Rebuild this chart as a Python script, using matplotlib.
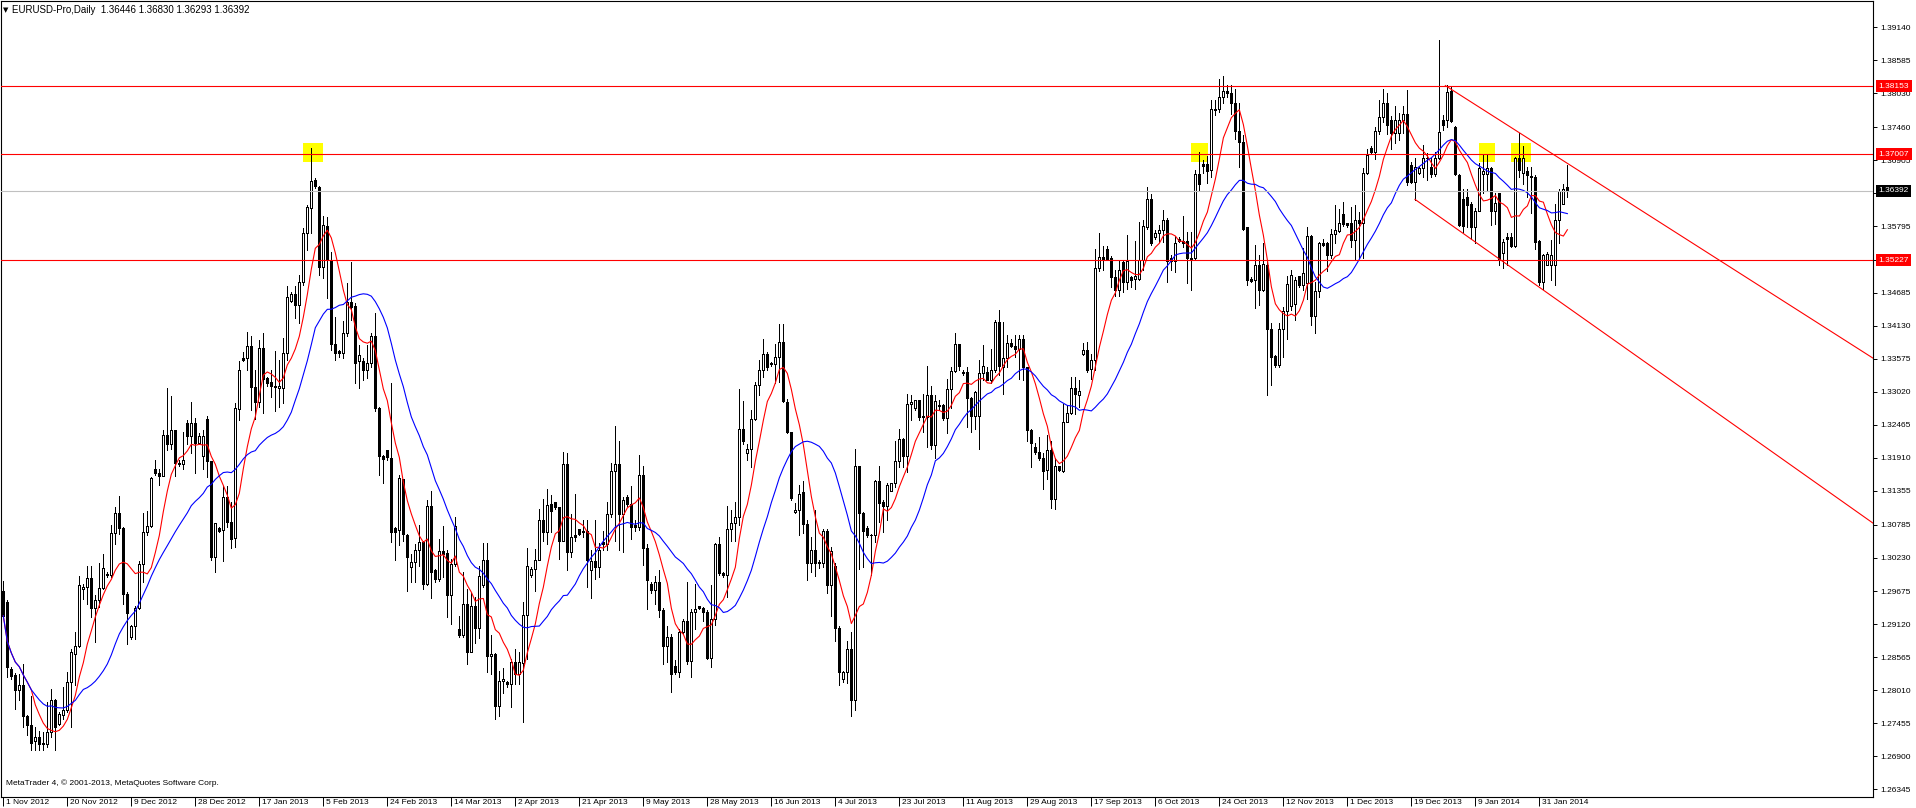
import numpy as np
import pandas as pd
import matplotlib
matplotlib.use("Agg")
import matplotlib.pyplot as plt
import matplotlib.transforms as mtransforms


plt.rcParams['font.family'] = ['Liberation Sans', 'DejaVu Sans']

# Daily EURUSD bars, prices in pips (12968 -> 1.2968)
bar_open = [
    12968, 12949, 12837, 12826, 12802, 12809, 12758, 12743, 12715, 12723,
    12712, 12711, 12730, 12784, 12744, 12760, 12768, 12814, 12862, 12876,
    12971, 12975, 12990, 12939, 12952, 12973, 12996, 12995, 13065, 13099,
    13074, 12963, 12891, 12908, 12939, 13013, 13066, 13076, 13173, 13165,
    13160, 13229, 13215, 13238, 13182, 13181, 13249, 13228, 13249, 13216,
    13194, 13256, 13186, 13025, 13074, 13070, 13125, 13084, 13056, 13273,
    13358, 13358, 13378, 13310, 13285, 13375, 13325, 13318, 13311, 13308,
    13308, 13367, 13455, 13466, 13447, 13487, 13568, 13610, 13658, 13645,
    13512, 13581, 13521, 13383, 13371, 13367, 13401, 13452, 13446, 13353,
    13353, 13339, 13350, 13395, 13274, 13194, 13205, 13190, 13073, 13070,
    13156, 13062, 13008, 13016, 13036, 13050, 12980, 13110, 13003, 12988,
    13034, 13032, 12960, 13013, 12904, 12893, 12945, 12865, 12942, 12906,
    12977, 13020, 12859, 12862, 12775, 12816, 12814, 12812, 12848, 12828,
    12846, 12928, 12994, 13005, 13020, 13086, 13066, 13114, 13117, 13108,
    13051, 13180, 13033, 13061, 13072, 13068, 13068, 13003, 13018, 13008,
    13050, 13046, 13097, 13169, 13180, 13096, 13125, 13114, 13078, 13075,
    13162, 13040, 12980, 12970, 12982, 12936, 12876, 12891, 12841, 12831,
    12898, 12918, 12850, 12932, 12942, 12939, 12932, 12855, 12921, 13046,
    12998, 12994, 13072, 13082, 13092, 13240, 13199, 13206, 13257, 13314,
    13339, 13366, 13350, 13348, 13360, 13386, 13285, 13234, 13100, 13104,
    13134, 13080, 13014, 13036, 13017, 13014, 13069, 12977, 13010, 12906,
    12820, 12831, 12870, 12785, 13177, 13098, 13074, 13062, 13061, 13152,
    13117, 13110, 13136, 13148, 13186, 13223, 13194, 13281, 13275, 13288,
    13262, 13260, 13296, 13212, 13279, 13279, 13258, 13306, 13337, 13382,
    13335, 13335, 13292, 13261, 13261, 13334, 13335, 13322, 13338, 13419,
    13343, 13359, 13384, 13378, 13374, 13391, 13343, 13238, 13210, 13201,
    13190, 13170, 13205, 13122, 13177, 13169, 13251, 13266, 13309, 13296,
    13366, 13372, 13341, 13355, 13509, 13528, 13542, 13527, 13494, 13472,
    13520, 13486, 13495, 13492, 13492, 13523, 13579, 13626, 13562, 13569,
    13574, 13591, 13527, 13522, 13558, 13555, 13555, 13526, 13526, 13668,
    13684, 13685, 13674, 13776, 13776, 13796, 13807, 13804, 13786, 13739,
    13722, 13578, 13491, 13489, 13515, 13473, 13515, 13408, 13362, 13347,
    13407, 13438, 13446, 13450, 13496, 13481, 13485, 13563, 13429, 13471,
    13552, 13552, 13531, 13567, 13572, 13601, 13585, 13585, 13557, 13591,
    13585, 13669, 13712, 13705, 13739, 13763, 13786, 13758, 13736, 13737,
    13759, 13768, 13682, 13654, 13670, 13677, 13694, 13680, 13667, 13694,
    13759, 13758, 13807, 13747, 13666, 13626, 13629, 13618, 13579, 13606,
    13667, 13667, 13677, 13606, 13635, 13535, 13562, 13561, 13546, 13694,
    13670, 13673, 13664, 13663, 13555, 13486, 13514, 13514, 13514, 13590,
    13618, 13645,
]
bar_high = [
    12985, 12952, 12840, 12830, 12828, 12845, 12760, 12792, 12739, 12733,
    12730, 12781, 12803, 12786, 12764, 12806, 12831, 12870, 12898, 12992,
    12980, 13009, 13009, 12960, 13014, 13029, 12999, 13078, 13108, 13127,
    13075, 12966, 12910, 12943, 13018, 13098, 13102, 13159, 13188, 13173,
    13238, 13309, 13295, 13238, 13187, 13234, 13255, 13284, 13258, 13233,
    13238, 13261, 13186, 13082, 13075, 13143, 13143, 13117, 13283, 13353,
    13369, 13403, 13395, 13339, 13389, 13400, 13327, 13339, 13371, 13355,
    13392, 13480, 13470, 13479, 13498, 13577, 13616, 13711, 13661, 13647,
    13597, 13596, 13537, 13428, 13372, 13420, 13484, 13520, 13451, 13381,
    13358, 13381, 13400, 13434, 13277, 13196, 13205, 13316, 13075, 13162,
    13156, 13064, 13030, 13047, 13078, 13052, 13120, 13136, 13005, 13055,
    13076, 13036, 13022, 13092, 12925, 12999, 12971, 12964, 12957, 13010,
    13048, 13048, 12893, 12863, 12834, 12838, 12817, 12854, 12870, 12865,
    12949, 13040, 13008, 13038, 13106, 13122, 13139, 13128, 13117, 13108,
    13201, 13199, 13097, 13131, 13072, 13086, 13086, 13036, 13086, 13048,
    13069, 13117, 13182, 13244, 13219, 13125, 13128, 13143, 13087, 13195,
    13178, 13047, 12982, 12992, 13002, 12939, 12908, 12896, 12851, 12904,
    12921, 12982, 12938, 12980, 12943, 12940, 12935, 12977, 13048, 13059,
    12999, 13111, 13103, 13117, 13306, 13286, 13215, 13272, 13318, 13356,
    13390, 13369, 13352, 13382, 13415, 13416, 13290, 13234, 13115, 13145,
    13152, 13086, 13059, 13103, 13020, 13072, 13072, 13041, 13014, 12908,
    12834, 12883, 12898, 13206, 13178, 13100, 13076, 13064, 13154, 13178,
    13120, 13148, 13149, 13219, 13240, 13225, 13298, 13296, 13289, 13288,
    13298, 13345, 13311, 13296, 13288, 13281, 13324, 13344, 13400, 13383,
    13338, 13344, 13293, 13304, 13356, 13380, 13344, 13374, 13422, 13440,
    13419, 13397, 13391, 13397, 13398, 13398, 13344, 13240, 13216, 13226,
    13199, 13229, 13219, 13191, 13178, 13282, 13279, 13326, 13326, 13322,
    13384, 13386, 13365, 13542, 13569, 13546, 13546, 13530, 13506, 13524,
    13524, 13565, 13496, 13555, 13587, 13590, 13646, 13634, 13573, 13582,
    13607, 13593, 13531, 13563, 13562, 13597, 13570, 13570, 13674, 13705,
    13691, 13697, 13792, 13792, 13827, 13832, 13817, 13817, 13811, 13786,
    13733, 13579, 13495, 13548, 13531, 13551, 13523, 13417, 13363, 13418,
    13445, 13496, 13507, 13495, 13496, 13543, 13579, 13565, 13487, 13554,
    13559, 13554, 13576, 13615, 13608, 13621, 13586, 13613, 13615, 13603,
    13677, 13709, 13715, 13747, 13792, 13810, 13803, 13765, 13782, 13770,
    13782, 13809, 13688, 13694, 13680, 13716, 13702, 13694, 13705, 13892,
    13766, 13817, 13815, 13748, 13668, 13643, 13643, 13621, 13610, 13686,
    13699, 13701, 13680, 13635, 13636, 13559, 13568, 13568, 13696, 13737,
    13714, 13680, 13680, 13666, 13556, 13534, 13537, 13556, 13618, 13643,
    13650, 13683,
]
bar_low = [
    12926, 12823, 12820, 12770, 12784, 12739, 12725, 12700, 12700, 12700,
    12700, 12705, 12722, 12700, 12742, 12753, 12764, 12739, 12809, 12873,
    12954, 12946, 12924, 12882, 12940, 12971, 12991, 12991, 13047, 13064,
    12946, 12879, 12887, 12887, 12938, 12982, 13061, 13075, 13163, 13145,
    13160, 13204, 13206, 13160, 13178, 13173, 13215, 13199, 13165, 13215,
    13173, 13159, 13019, 13000, 13067, 13018, 13075, 13039, 13041, 13255,
    13353, 13339, 13271, 13257, 13277, 13266, 13311, 13294, 13269, 13277,
    13283, 13355, 13453, 13425, 13417, 13481, 13540, 13568, 13644, 13498,
    13493, 13459, 13372, 13355, 13361, 13358, 13395, 13423, 13316, 13308,
    13322, 13325, 13344, 13269, 13162, 13148, 13187, 13050, 13019, 13045,
    13052, 12968, 12982, 12982, 13010, 12971, 12977, 12956, 12982, 12985,
    12991, 12924, 12912, 13010, 12890, 12890, 12845, 12865, 12880, 12889,
    12974, 12831, 12828, 12753, 12758, 12796, 12806, 12772, 12812, 12812,
    12747, 12854, 12991, 12968, 13019, 13052, 13047, 13066, 13106, 13022,
    13051, 13002, 13024, 13052, 13061, 13058, 12974, 12956, 12988, 12991,
    13036, 13036, 13092, 13052, 13036, 13033, 13111, 13055, 13069, 13070,
    13012, 12938, 12964, 12946, 12924, 12845, 12848, 12798, 12828, 12823,
    12896, 12845, 12823, 12904, 12938, 12918, 12854, 12840, 12910, 12994,
    12991, 12957, 13052, 13052, 13079, 13215, 13187, 13176, 13254, 13296,
    13326, 13338, 13346, 13317, 13318, 13285, 13232, 13120, 13098, 13061,
    13065, 12986, 13000, 12992, 13006, 13008, 12964, 12925, 12884, 12809,
    12814, 12813, 12758, 12767, 13005, 13008, 13058, 12994, 13050, 13083,
    13066, 13086, 13135, 13142, 13176, 13176, 13167, 13254, 13272, 13254,
    13234, 13209, 13206, 13191, 13271, 13255, 13232, 13275, 13335, 13338,
    13330, 13243, 13234, 13240, 13206, 13321, 13321, 13316, 13335, 13330,
    13299, 13343, 13377, 13360, 13324, 13322, 13220, 13175, 13198, 13187,
    13139, 13156, 13107, 13106, 13169, 13167, 13251, 13264, 13265, 13276,
    13363, 13335, 13324, 13338, 13505, 13506, 13523, 13478, 13462, 13462,
    13470, 13475, 13478, 13475, 13489, 13506, 13576, 13548, 13559, 13554,
    13554, 13486, 13506, 13503, 13554, 13545, 13484, 13472, 13523, 13640,
    13669, 13652, 13663, 13767, 13772, 13787, 13797, 13769, 13727, 13680,
    13573, 13481, 13487, 13442, 13447, 13471, 13296, 13313, 13344, 13344,
    13361, 13390, 13439, 13422, 13478, 13473, 13457, 13414, 13400, 13461,
    13547, 13505, 13526, 13552, 13571, 13580, 13579, 13545, 13524, 13526,
    13526, 13667, 13702, 13692, 13735, 13755, 13735, 13709, 13719, 13725,
    13736, 13649, 13652, 13624, 13667, 13663, 13657, 13663, 13664, 13692,
    13742, 13747, 13755, 13666, 13580, 13570, 13579, 13559, 13551, 13606,
    13636, 13640, 13582, 13584, 13514, 13509, 13514, 13545, 13545, 13663,
    13650, 13629, 13602, 13542, 13481, 13475, 13514, 13489, 13481, 13551,
    13617, 13629,
]
bar_close = [
    12926, 12840, 12825, 12802, 12809, 12758, 12742, 12712, 12723, 12710,
    12710, 12730, 12784, 12739, 12761, 12768, 12814, 12865, 12876, 12978,
    12975, 12990, 12939, 12953, 12973, 13006, 12994, 13065, 13099, 13074,
    12963, 12931, 12908, 12939, 13013, 13066, 13076, 13158, 13165, 13160,
    13229, 13215, 13238, 13182, 13181, 13188, 13228, 13249, 13216, 13228,
    13228, 13186, 13025, 13082, 13069, 13125, 13084, 13054, 13274, 13339,
    13355, 13378, 13310, 13285, 13375, 13323, 13317, 13311, 13310, 13312,
    13367, 13461, 13466, 13447, 13487, 13568, 13612, 13655, 13647, 13512,
    13582, 13523, 13383, 13367, 13367, 13401, 13452, 13445, 13350, 13364,
    13339, 13350, 13395, 13274, 13194, 13189, 13192, 13067, 13067, 13157,
    13064, 13024, 13016, 13037, 13050, 12980, 13110, 12999, 12988, 13034,
    13030, 12960, 13013, 13076, 12893, 12946, 12865, 12942, 12906, 12992,
    13020, 12859, 12862, 12775, 12817, 12820, 12812, 12848, 12828, 12848,
    12928, 13010, 13005, 13020, 13086, 13066, 13112, 13102, 13108, 13051,
    13180, 13033, 13058, 13058, 13064, 13067, 13019, 13018, 13008, 13036,
    13046, 13097, 13169, 13180, 13096, 13120, 13113, 13075, 13075, 13162,
    13040, 12986, 12970, 12982, 12936, 12876, 12891, 12828, 12831, 12898,
    12918, 12850, 12932, 12938, 12939, 12932, 12855, 12921, 13046, 12998,
    12994, 13072, 13082, 13092, 13240, 13219, 13206, 13257, 13314, 13339,
    13366, 13344, 13348, 13360, 13386, 13286, 13234, 13124, 13104, 13131,
    13080, 13014, 13036, 13014, 13014, 13069, 12977, 13034, 12906, 12831,
    12831, 12870, 12785, 13177, 13098, 13068, 13061, 13061, 13153, 13115,
    13110, 13145, 13148, 13186, 13223, 13194, 13282, 13285, 13288, 13260,
    13260, 13296, 13212, 13286, 13278, 13258, 13306, 13337, 13382, 13345,
    13334, 13292, 13261, 13302, 13334, 13346, 13322, 13338, 13419, 13345,
    13359, 13384, 13378, 13374, 13391, 13343, 13237, 13216, 13201, 13190,
    13169, 13205, 13122, 13177, 13171, 13251, 13266, 13309, 13298, 13303,
    13372, 13338, 13356, 13509, 13528, 13524, 13524, 13494, 13472, 13506,
    13486, 13522, 13490, 13496, 13523, 13580, 13626, 13552, 13569, 13574,
    13591, 13522, 13522, 13552, 13555, 13552, 13526, 13524, 13668, 13650,
    13681, 13673, 13776, 13775, 13796, 13807, 13803, 13786, 13739, 13722,
    13576, 13489, 13488, 13515, 13473, 13516, 13408, 13361, 13347, 13408,
    13438, 13483, 13498, 13489, 13481, 13501, 13563, 13429, 13471, 13551,
    13549, 13531, 13567, 13573, 13586, 13583, 13582, 13557, 13591, 13585,
    13669, 13700, 13705, 13739, 13763, 13786, 13750, 13736, 13759, 13759,
    13768, 13654, 13654, 13680, 13677, 13695, 13695, 13667, 13694, 13738,
    13750, 13806, 13757, 13667, 13582, 13580, 13615, 13579, 13606, 13677,
    13673, 13677, 13606, 13619, 13524, 13554, 13559, 13546, 13694, 13674,
    13695, 13666, 13662, 13554, 13486, 13531, 13534, 13531, 13590, 13639,
    13642, 13639,
]

date_labels = [
    "1 Nov 2012", "20 Nov 2012", "9 Dec 2012", "28 Dec 2012", "17 Jan 2013",
    "5 Feb 2013", "24 Feb 2013", "14 Mar 2013", "2 Apr 2013", "21 Apr 2013",
    "9 May 2013", "28 May 2013", "16 Jun 2013", "4 Jul 2013", "23 Jul 2013",
    "11 Aug 2013", "29 Aug 2013", "17 Sep 2013", "6 Oct 2013", "24 Oct 2013",
    "12 Nov 2013", "1 Dec 2013", "19 Dec 2013", "9 Jan 2014", "31 Jan 2014",
]
price_ticks = [
    1.39140, 1.38585, 1.38030, 1.37460, 1.36905, 1.36350, 1.35795, 1.35240,
    1.34685, 1.34130, 1.33575, 1.33020, 1.32465, 1.31910, 1.31355, 1.30785,
    1.30230, 1.29675, 1.29120, 1.28565, 1.28010, 1.27455, 1.26900, 1.26345,
]
red_levels = [1.38153, 1.37007, 1.35227]
bid_price = 1.36392
title_text = "EURUSD-Pro,Daily  1.36446 1.36830 1.36293 1.36392"
footer_text = "MetaTrader 4, \u00a9 2001-2013, MetaQuotes Software Corp."

# channel rays: (bar, price) anchors
channel_upper = [(360.5, 1.3816), (467.5, 1.3358)]
channel_lower = [(352.9, 1.3625), (467.5, 1.3081)]

# yellow marks: first bar, last bar
marks = [(74.8, 80.0), (296.9, 301.2), (368.9, 372.9), (376.9, 381.9)]
mark_top = 1.3720
mark_bottom = 1.3687

LABEL_STEP = 16
FAST_MA = 8
SLOW_MA = 21
W, H = 1916, 808

o = np.array(bar_open) / 10000
h = np.array(bar_high) / 10000
lo = np.array(bar_low) / 10000
c = np.array(bar_close) / 10000
idx = np.arange(len(c))

fig = plt.figure(figsize=(W / 100, H / 100), dpi=100)
ax = fig.add_axes([1 / W, 11 / H, 1872 / W, 796 / H])
ax.set_xlim(-0.575, 467.4)
ax.set_ylim(1.26217, 1.39580)

# yellow marks in the background
for x0, x1 in marks:
    ax.fill_between([x0, x1], mark_bottom, mark_top, color="#ffff00", lw=0, zorder=1)

# candles: 1px wicks, 3px bodies with a 1px outline
top = np.maximum(h, np.maximum(o, c))
bot = np.minimum(lo, np.minimum(o, c))
ax.vlines(idx, bot, top, color="black", lw=0.72, antialiased=False, zorder=2)
up = c >= o
ax.bar(idx, np.abs(c - o), bottom=np.minimum(o, c), width=0.5,
       color=np.where(up, "white", "black"), edgecolor="black",
       linewidth=0.6, antialiased=False, zorder=3)

# moving averages
closes = pd.Series(c)
ax.plot(idx, closes.rolling(FAST_MA, min_periods=1).mean(), color="#ff0000", lw=0.8, zorder=4)
ax.plot(idx, closes.rolling(SLOW_MA, min_periods=1).mean(), color="#0000ff", lw=0.8, zorder=4)

# levels and channel
for p in red_levels:
    ax.axhline(p, color="#ff0000", lw=0.8, zorder=5)
ax.axhline(bid_price, color="#c0c0c0", lw=0.8, zorder=5)
for line in (channel_upper, channel_lower):
    ax.plot([line[0][0], line[1][0]], [line[0][1], line[1][1]], color="#ff0000", lw=0.8, zorder=5)

# axes look
for s in ax.spines.values():
    s.set_linewidth(0.8)
ax.yaxis.tick_right()
ax.set_yticks(price_ticks)
ax.set_yticklabels([f"{p:.5f}" for p in price_ticks])
ax.tick_params(axis="y", direction="out", length=3, width=0.7, pad=2, labelsize=6)
ax.set_xticks(np.arange(len(date_labels)) * LABEL_STEP)
ax.set_xticklabels([])
ax.tick_params(axis="x", direction="out", length=6.5, width=0.7)

for k, lab in enumerate(date_labels):
    ax.annotate(lab, xy=(k * LABEL_STEP, 0), xycoords=("data", "axes fraction"),
                xytext=(2.5, -2), textcoords="offset pixels", ha="left", va="top",
                fontsize=6, annotation_clip=False)

# price tags on the right scale
trans = mtransforms.blended_transform_factory(ax.transAxes, ax.transData)
tag_x = 1 + 5.5 / 1872
for p in red_levels:
    ax.text(tag_x, p, f"{p:.5f}", transform=trans, ha="left", va="center", fontsize=6,
            color="white", bbox=dict(boxstyle="square,pad=0.3", fc="#ff0000", ec="none"),
            clip_on=False, zorder=6)
ax.text(tag_x, bid_price, f"{bid_price:.5f}", transform=trans, ha="left", va="center",
        fontsize=6, color="white", bbox=dict(boxstyle="square,pad=0.3", fc="black", ec="none"),
        clip_on=False, zorder=6)

fig.text(3 / W, 1 - 10 / H, "\u25bc", fontsize=5, family="DejaVu Sans", va="center")
fig.text(12 / W, 1 - 10 / H, title_text, fontsize=7, va="center")
fig.text(6 / W, 1 - 783 / H, footer_text, fontsize=6, va="center")

fig.savefig("out.png", dpi=100)
